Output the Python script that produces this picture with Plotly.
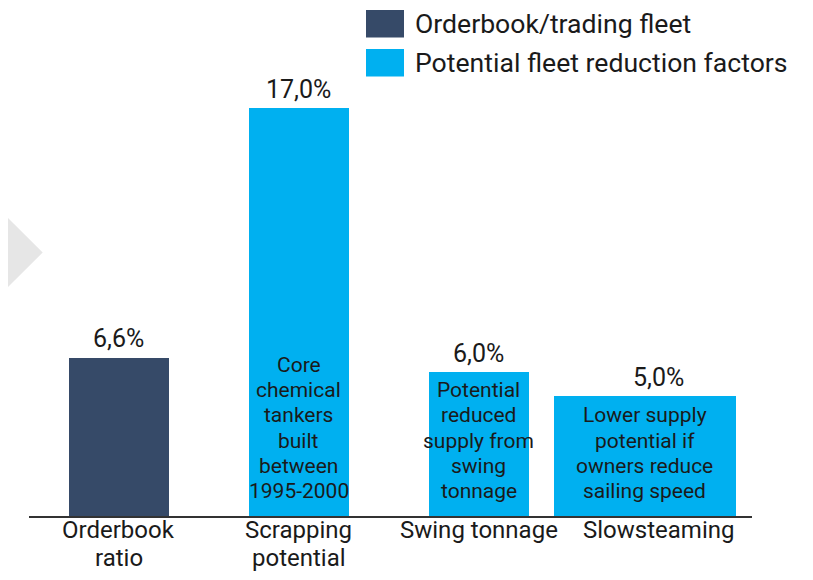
import plotly.graph_objects as go

categories = ["Orderbook<br>ratio", "Scrapping<br>potential", "Swing tonnage", "Slowsteaming"]
values = [6.6, 17.0, 6.0, 5.0]
value_labels = ["6,6%", "17,0%", "6,0%", "5,0%"]
inside_texts = ["", "Core<br>chemical<br>tankers<br>built<br>between<br>1995-2000",
                "Potential<br>reduced<br>supply from<br>swing<br>tonnage",
                "Lower supply<br>potential if<br>owners reduce<br>sailing speed"]
series = ["Orderbook/trading fleet", "Potential fleet reduction factors",
          "Potential fleet reduction factors", "Potential fleet reduction factors"]

# ---- layout (positions / styles) ----
xpos = [0, 1, 2, 2.922]
widths = [0.556, 0.556, 0.556, 1.011]
label_xshift = [0, 0, 0, 14]
c_dark = "#364a68"
c_light = "#00b0f0"
txt = "#1a1a1a"
colors = [c_dark if s == series[0] else c_light for s in series]
FONT = "Roboto"

OFF = 8  # page body margin
W, H = 813 - 2 * OFF, 580 - 2 * OFF
l, r, t, b = 29 - OFF, 813 - 752 - OFF, 2, 564 - (516 - OFF)
pw, ph = W - l - r, H - t - b
PX_PER_UNIT = 24.0


def px(xp):
    return (xp - OFF - l) / pw


def py(yp):
    return (H - b - (yp - OFF)) / ph


fig = go.Figure()
fig.add_trace(go.Bar(x=xpos, y=values, width=widths,
                     marker=dict(color=colors, line=dict(width=0)),
                     showlegend=False, hoverinfo="skip"))

for x, v, lab, it, xs in zip(xpos, values, value_labels, inside_texts, label_xshift):
    fig.add_annotation(x=x, y=v, text=lab, showarrow=False, yanchor="middle", yshift=19,
                       xshift=xs, font=dict(family=FONT, size=25, color=txt))
    if it:
        lines = it.split("<br>")
        for k, line in enumerate(reversed(lines)):
            fig.add_annotation(x=x, y=0, text=line, showarrow=False, yanchor="middle",
                               yshift=25 + 25.2 * k,
                               font=dict(family=FONT, size=21, color=txt))

for x, cat, xs in zip(xpos, categories, label_xshift):
    for k, line in enumerate(cat.split("<br>")):
        fig.add_annotation(x=x, y=0, yref="paper", text=line, showarrow=False,
                           yanchor="middle", yshift=-13.5 - 28.2 * k, xshift=xs,
                           font=dict(family=FONT, size=24, color=txt))

# grey arrow triangle at left
fig.add_shape(type="path", xref="paper", yref="paper", layer="below",
              path=f"M {px(-3)} {py(207)} L {px(42.7)} {py(252.5)} L {px(-3)} {py(298)} Z",
              fillcolor="#e6e6e6", line=dict(width=0))

# legend (manual)
legend_names = [series[0], series[1]]
legend_colors = [c_dark, c_light]
for i, (name, col) in enumerate(zip(legend_names, legend_colors)):
    y0 = 10 + i * 39
    fig.add_shape(type="rect", xref="paper", yref="paper",
                  x0=px(366), x1=px(404), y0=py(y0 + 27.5), y1=py(y0),
                  fillcolor=col, line=dict(width=0))
    fig.add_annotation(xref="paper", yref="paper", x=px(413), y=py(y0 + 13.5), text=name,
                       showarrow=False, xanchor="left", yanchor="middle",
                       font=dict(family=FONT, size=26.6, color=txt))

fig.update_layout(
    width=W, height=H, margin=dict(l=l, r=r, t=t, b=b),
    plot_bgcolor="white", paper_bgcolor="white",
    xaxis=dict(range=[-0.5, 3.517], showticklabels=False, showgrid=False,
               zeroline=False, showline=True, linecolor="#333333", linewidth=2, ticks=""),
    yaxis=dict(range=[0, ph / PX_PER_UNIT], visible=False),
    bargap=0,
)
fig.write_html("out.html")
